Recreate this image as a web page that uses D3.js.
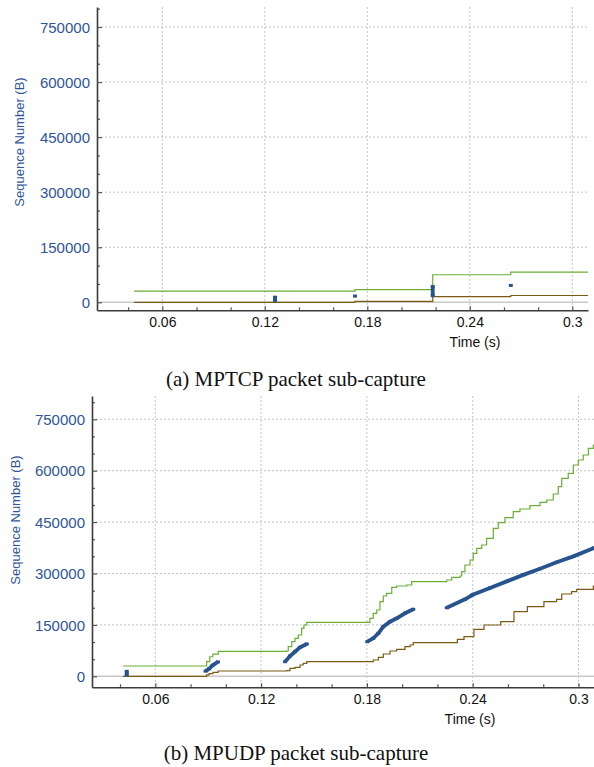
<!DOCTYPE html>
<html>
<head>
<meta charset="utf-8">
<script src="https://cdn.jsdelivr.net/npm/d3@7"></script>
<style>
  html, body { margin: 0; padding: 0; background: #fff; }
  svg { display: block; }
  .tick text { font-family: 'Liberation Sans', Arial, sans-serif; }
  .caption { font-family: 'Liberation Serif', 'Times New Roman', serif; font-size: 21px; fill: #111; }
</style>
</head>
<body>
<svg id="chart" width="594" height="767"></svg>
<script>
// axis ticks
const timeTicks = [0.06, 0.12, 0.18, 0.24, 0.3];
const timeMinorTicks = [0.04, 0.08, 0.1, 0.14, 0.16, 0.2, 0.22, 0.26, 0.28];
const seqTicks = [0, 150000, 300000, 450000, 600000, 750000];
const seqMinorTicks = [50000, 100000, 200000, 250000, 350000, 400000, 500000,
  550000, 650000, 700000, 800000];

// (a) MPTCP  [time (s), sequence (B)]
const tcpWindow = [[0.0434, 30500], [0.1728, 34500], [0.2183, 75000], [0.264, 82000], [0.3092, 82000]];
const tcpAcked = [[0.0434, 0], [0.1728, 2500], [0.2183, 15500], [0.264, 18500], [0.3092, 18500]];
const tcpPackets = [
  [[0.126, 5000], [0.126, 14000]],
  [[0.1728, 17000]],
  [[0.2183, 18000], [0.2183, 43000]],
  [[0.264, 46000]]
];

// (b) MPUDP
const udpWindow = [
  [0.0417, 30000], [0.0891, 42600], [0.0909, 57000], [0.0926, 65000], [0.0957, 73000],
  [0.1345, 73800], [0.1354, 86400], [0.1374, 101000], [0.1392, 110900], [0.1411, 120500],
  [0.143, 140100], [0.1443, 149700], [0.1459, 157600], [0.1817, 169300], [0.1836, 183900],
  [0.1856, 193500], [0.1874, 217700], [0.1893, 234300], [0.1912, 242200], [0.1941, 259700],
  [0.1969, 263500], [0.2026, 266400], [0.2054, 276100], [0.2253, 281000], [0.2281, 288900],
  [0.2328, 292700], [0.2338, 305300], [0.2356, 324800], [0.2385, 339400], [0.2403, 359000],
  [0.2423, 373500], [0.2451, 383200], [0.2479, 402700], [0.2517, 431900], [0.2545, 448200],
  [0.2583, 462800], [0.263, 480300], [0.2668, 488200], [0.2725, 497900], [0.2782, 507800],
  [0.282, 514500], [0.2857, 532000], [0.2885, 553300], [0.2905, 577800], [0.2942, 592400],
  [0.2971, 616600], [0.2999, 631200], [0.3027, 645800], [0.3056, 665400], [0.3084, 675000],
  [0.3088, 675000]
];
const udpAcked = [
  [0.0417, 0], [0.0891, 4000], [0.0905, 8000], [0.0927, 11700], [0.0956, 15500],
  [0.1345, 16300], [0.1364, 23300], [0.1392, 26300], [0.1421, 33000], [0.1439, 37900],
  [0.1459, 42600], [0.1836, 47600], [0.1865, 55400], [0.1893, 65100], [0.1931, 73800],
  [0.1969, 78800], [0.2016, 86400], [0.2045, 91300], [0.2063, 98100], [0.2256, 98100],
  [0.2313, 108000], [0.2351, 115600], [0.2407, 137200], [0.2464, 149700], [0.2559, 159300],
  [0.2634, 188500], [0.271, 203100], [0.2804, 217700], [0.2876, 224700], [0.2905, 240200],
  [0.2961, 246900], [0.299, 253900], [0.3084, 263500], [0.3088, 263500]
];
const udpPackets = [
  [[0.0438, 3500], [0.0438, 14500]],
  [[0.0885, 15000], [0.0905, 22000], [0.0925, 32000], [0.0955, 42000]],
  [[0.1336, 42600], [0.1364, 59200], [0.1392, 71800], [0.1421, 84600], [0.1459, 94300]],
  [[0.1802, 101000], [0.1836, 110900], [0.1865, 125500], [0.1893, 144700], [0.1931, 159300],
   [0.1969, 169300], [0.2016, 183900], [0.2063, 195500]],
  [[0.2253, 200200], [0.2356, 224700], [0.24, 238000], [0.2498, 258000], [0.2593, 277000],
   [0.2687, 296000], [0.2782, 314000], [0.2876, 332700], [0.2971, 350000], [0.3084, 373500],
   [0.3088, 374500]]
];

const captions = ['(a) MPTCP packet sub-capture', '(b) MPUDP packet sub-capture'];

const panels = [
  { left: 97, right: 588, top: 7, bottom: 310.3, xDomain: [0.02177, 0.30919], yDomain: [-21800, 804500],
    titleX: 23.5, titleY: 142, captionY: 386,
    win: tcpWindow, acked: tcpAcked, packets: tcpPackets, caption: captions[0] },
  { left: 92, right: 594, top: 396, bottom: 687.3, xDomain: [0.0241, 0.3088], yDomain: [-32100, 818000],
    titleX: 20, titleY: 520, captionY: 760,
    win: udpWindow, acked: udpAcked, packets: udpPackets, caption: captions[1] }
];

const svg = d3.select('#chart');
const labelBlue = '#2f5597';
const axisColor = '#3a3a3a';
const packetBlue = '#27538f';

const drawPanel = p => {
  const x = d3.scaleLinear().domain(p.xDomain).range([p.left, p.right]);
  const y = d3.scaleLinear().domain(p.yDomain).range([p.bottom, p.top]);
  const g = svg.append('g');

  // dotted grid
  g.append('g').selectAll('line').data(timeTicks).join('line')
    .attr('x1', d => x(d)).attr('x2', d => x(d))
    .attr('y1', p.top).attr('y2', p.bottom)
    .attr('stroke', '#c4c4c4').attr('stroke-dasharray', '2,2');
  g.append('g').selectAll('line').data(seqTicks.filter(d => d > 0)).join('line')
    .attr('x1', p.left).attr('x2', p.right)
    .attr('y1', d => y(d)).attr('y2', d => y(d))
    .attr('stroke', '#c4c4c4').attr('stroke-dasharray', '2,2');

  // zero line
  g.append('line')
    .attr('x1', p.left).attr('x2', p.right)
    .attr('y1', y(0)).attr('y2', y(0))
    .attr('stroke', '#c8c8c8').attr('stroke-width', 1.5);

  const step = d3.line().x(d => x(d[0])).y(d => y(d[1])).curve(d3.curveStepAfter);

  g.append('path').datum(p.acked)
    .attr('d', step).attr('fill', 'none')
    .attr('stroke', '#7b5a12').attr('stroke-width', 1.2);
  g.append('path').datum(p.win)
    .attr('d', step).attr('fill', 'none')
    .attr('stroke', '#6aae35').attr('stroke-width', 1.2);

  // packets
  const line = d3.line().x(d => x(d[0])).y(d => y(d[1]));
  g.append('g').selectAll('path').data(p.packets.filter(b => b.length > 1)).join('path')
    .attr('d', line).attr('fill', 'none')
    .attr('stroke', packetBlue).attr('stroke-width', 3.8);
  g.append('g').selectAll('rect').data(p.packets.flat()).join('rect')
    .attr('x', d => x(d[0]) - 2).attr('y', d => y(d[1]) - 1.5)
    .attr('width', 4).attr('height', 3)
    .attr('fill', packetBlue);

  // axes
  const xMinor = g.append('g').attr('transform', `translate(0,${p.bottom})`)
    .call(d3.axisBottom(x).tickValues(timeMinorTicks).tickSize(-3).tickFormat(''));
  xMinor.select('.domain').remove();
  const xAxis = g.append('g').attr('transform', `translate(0,${p.bottom})`)
    .call(d3.axisBottom(x).tickValues(timeTicks).tickSizeInner(-4).tickSizeOuter(0)
      .tickPadding(7).tickFormat(d3.format('~g')));
  xAxis.selectAll('text').attr('font-size', 14).attr('fill', '#111');

  const yMinor = g.append('g').attr('transform', `translate(${p.left},0)`)
    .call(d3.axisLeft(y).tickValues(seqMinorTicks).tickSize(-3).tickFormat(''));
  yMinor.select('.domain').remove();
  const yAxis = g.append('g').attr('transform', `translate(${p.left},0)`)
    .call(d3.axisLeft(y).tickValues(seqTicks).tickSizeInner(-5).tickSizeOuter(0)
      .tickPadding(7).tickFormat(d3.format('d')));
  yAxis.selectAll('text').attr('font-size', 15).attr('fill', labelBlue).attr('dy', '0.35em');

  g.selectAll('.domain').attr('stroke', axisColor).attr('stroke-width', 1.6);
  g.selectAll('.tick line').attr('stroke', '#555').attr('stroke-width', 1.2);

  g.append('text')
    .attr('x', p.left + 378).attr('y', p.bottom + 37)
    .attr('text-anchor', 'middle')
    .attr('font-family', "'Liberation Sans', Arial, sans-serif")
    .attr('font-size', 14).attr('fill', '#111')
    .text('Time (s)');

  g.append('text')
    .attr('transform', `translate(${p.titleX},${p.titleY}) rotate(-90)`)
    .attr('text-anchor', 'middle')
    .attr('font-family', "'Liberation Sans', Arial, sans-serif")
    .attr('font-size', 13).attr('fill', labelBlue)
    .text('Sequence Number (B)');

  svg.append('text')
    .attr('class', 'caption')
    .attr('x', 296).attr('y', p.captionY)
    .attr('text-anchor', 'middle')
    .text(p.caption);
};

panels.forEach(drawPanel);
</script>
</body>
</html>
